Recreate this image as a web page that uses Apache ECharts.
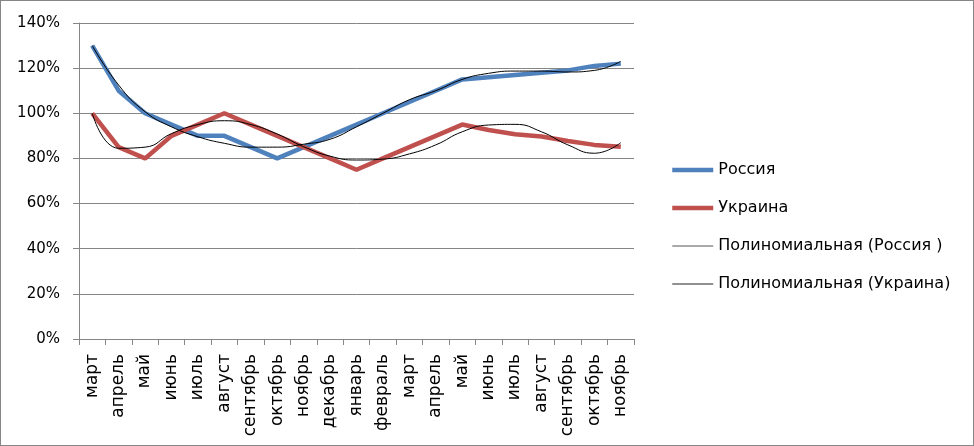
<!DOCTYPE html>
<html><head><meta charset="utf-8">
<script src="https://cdn.jsdelivr.net/npm/echarts@6/dist/echarts.min.js"></script>
<style>html,body{margin:0;padding:0;background:#fff}#c{width:974px;height:446px;box-sizing:border-box;border:1px solid #868686}</style>
</head><body><div id="c"></div>
<script>
const categories = ['март','апрель','май','июнь','июль','август','сентябрь','октябрь','ноябрь','декабрь','январь','февраль','март','апрель','май','июнь','июль','август','сентябрь','октябрь','ноябрь'];
const russia = [130,110,100,95,90,90,85,80,85,90,95,100,105,110,115,116,117,118,119,121,122];
const ukraine = [100,85,80,90,95,100,95,90,85,80,75,80,85,90,95,92.6,90.7,89.7,87.7,86,85.2];
const russiaTrend = [130,112.5,100.7,94,89.6,86.7,85,85,86.3,88.5,94,100,106,110,115,117.7,118.7,118.7,118.3,119,123];
const ukraineTrend = [100,84.5,85,91,95,96.7,95,90.8,85.2,81,79.3,79.7,82,86,91.8,94.8,95.1,91.8,86,82.3,87];
const yTicks = [0,20,40,60,80,100,120,140];

const font = 'DejaVu Sans';
const chart = echarts.init(document.getElementById('c'), null, {renderer:'canvas'});
chart.setOption({
  animation:false,
  textStyle:{fontFamily:font},
  grid:{left:78,right:339,top:22,bottom:106,containLabel:false},
  legend:{
    orient:'vertical', left:664, top:156, itemWidth:41, itemHeight:14, itemGap:22,
    itemStyle:{opacity:0},
    textStyle:{fontFamily:font,fontSize:16,color:'#000'},
    data:[
      {name:'Россия',lineStyle:{width:4.5,color:'#4F81BD'}},
      {name:'Украина',lineStyle:{width:4.5,color:'#C0504D'}},
      {name:'Полиномиальная (Россия )',lineStyle:{width:1,color:'#555'}},
      {name:'Полиномиальная (Украина)',lineStyle:{width:1,color:'#222'}}
    ]
  },
  xAxis:{
    type:'category', data:categories, boundaryGap:true,
    axisLine:{lineStyle:{color:'#868686',width:1}},
    axisTick:{show:true,length:6,interval:0,lineStyle:{color:'#868686'}},
    axisLabel:{rotate:90,interval:0,fontSize:17,color:'#000',margin:15,fontFamily:font}
  },
  yAxis:{
    type:'value', min:0, max:140, interval:20,
    axisLine:{show:true,lineStyle:{color:'#868686',width:1}},
    axisTick:{show:true,length:6,lineStyle:{color:'#868686'}},
    splitLine:{lineStyle:{color:'#868686',width:1}},
    axisLabel:{fontSize:15,color:'#000',margin:19,fontFamily:font,formatter:v=>v+'%'}
  },
  series:[
    {name:'Россия',type:'line',data:russia,symbol:'none',lineStyle:{color:'#4F81BD',width:4.5},itemStyle:{color:'#4F81BD'},z:3},
    {name:'Украина',type:'line',data:ukraine,symbol:'none',lineStyle:{color:'#C0504D',width:4.5},itemStyle:{color:'#C0504D'},z:3},
    {name:'Полиномиальная (Россия )',type:'line',data:russiaTrend,symbol:'none',smooth:0.5,lineStyle:{color:'#000',width:1},itemStyle:{color:'#000'},z:4},
    {name:'Полиномиальная (Украина)',type:'line',data:ukraineTrend,symbol:'none',smooth:0.5,lineStyle:{color:'#000',width:1},itemStyle:{color:'#000'},z:4}
  ]
});
</script></body></html>
